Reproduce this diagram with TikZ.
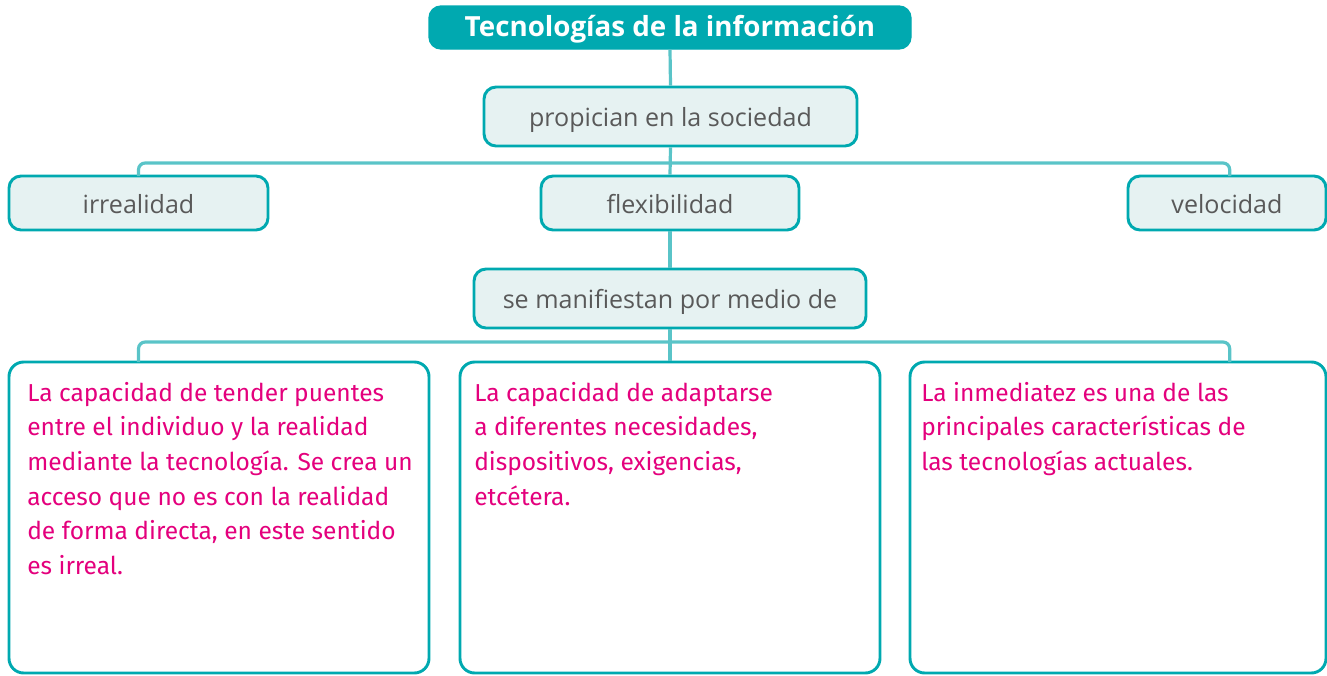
\documentclass[tikz,border=0pt]{standalone}
\usepackage{fontspec}
\setmainfont{Open Sans}
\newfontfamily\pinkfont{Fira Sans}
\usetikzlibrary{calc}
\definecolor{tealB}{RGB}{0,169,176}
\definecolor{tealL}{RGB}{90,196,200}
\definecolor{boxfill}{RGB}{230,242,242}
\definecolor{graytxt}{RGB}{89,89,89}
\definecolor{pinktxt}{RGB}{228,0,125}
\newcommand\px[1]{#1*0.75pt}
\tikzset{
  titlebox/.style={draw=tealB, fill=tealB, line width=1pt, rounded corners=9pt, text=white,
    font=\fontsize{20.8}{24}\selectfont\bfseries, inner sep=0pt, text height=12.8pt, text depth=0pt},
  conceptbox/.style={draw=tealB, fill=boxfill, line width=2.2pt, rounded corners=9pt, text=graytxt,
    font=\fontsize{18.8}{22}\selectfont, inner sep=0pt, text height=15.5pt, text depth=0pt},
  infobox/.style={draw=tealB, fill=white, line width=2.2pt, rounded corners=11pt, inner sep=0pt},
  infotext/.style={text=pinktxt, font=\pinkfont\fontsize{18.4}{25.9}\selectfont, align=left,
    anchor=north west, inner sep=0pt},
  conn/.style={draw=tealL, line width=2.4pt},
  bus/.style={draw=tealL, line width=2.4pt, rounded corners=5pt},
}
\begin{document}
\begin{tikzpicture}[x=0.75pt,y=-0.75pt]
\useasboundingbox (0,0) rectangle (1327,675);
\node[titlebox, minimum width=\px{482}, minimum height=\px{43}] (title) at (670,27.5) {Tecnologías de la información};
\node[conceptbox, minimum width=\px{373}, minimum height=\px{59}] (prop) at (670.5,116.5) {propician en la sociedad};
\node[conceptbox, minimum width=\px{259}, minimum height=\px{54}] (irr) at (138.5,203) {irrealidad};
\node[conceptbox, minimum width=\px{258}, minimum height=\px{54}] (flex) at (670,203) {flexibilidad};
\node[conceptbox, minimum width=\px{198}, minimum height=\px{54}] (vel) at (1227,203) {velocidad};
\node[conceptbox, minimum width=\px{392}, minimum height=\px{59}] (manif) at (670,298.5) {se manifiestan por medio de};
\node[infobox, minimum width=\px{420}, minimum height=\px{311}] (b1) at (219,517.5) {};
\node[infobox, minimum width=\px{420}, minimum height=\px{311}] (b2) at (670,517.5) {};
\node[infobox, minimum width=\px{416}, minimum height=\px{311}] (b3) at (1118,517.5) {};

\coordinate (busA) at (670,163);
\coordinate (busB) at (670,342);
\draw[conn] (title.south) -- (prop.north);
\draw[conn] (prop.south) -- (flex.north);
\draw[conn] (flex.south) -- (manif.north);
\draw[conn] (manif.south) -- (b2.north);
\draw[bus] ([yshift=-1.1pt]irr.north) |- (busA) -| ([yshift=-1.1pt,xshift=2pt]vel.north);
\draw[bus] ([yshift=-1.1pt]irr.north |- b1.north) |- (busB) -| ([yshift=-1.1pt,xshift=2pt]vel.north |- b3.north);

\node[infotext] (t1) at (27,382) {La capacidad de tender puentes\\entre el individuo y la realidad\\mediante la tecnología. Se crea un\\acceso que no es con la realidad\\de forma directa, en este sentido\\es irreal.};
\node[infotext] (t2) at (474,382) {La capacidad de adaptarse\\a diferentes necesidades,\\dispositivos, exigencias,\\etcétera.};
\node[infotext] (t3) at (921,382) {La inmediatez es una de las\\principales características de\\las tecnologías actuales.};
\end{tikzpicture}
\end{document}
